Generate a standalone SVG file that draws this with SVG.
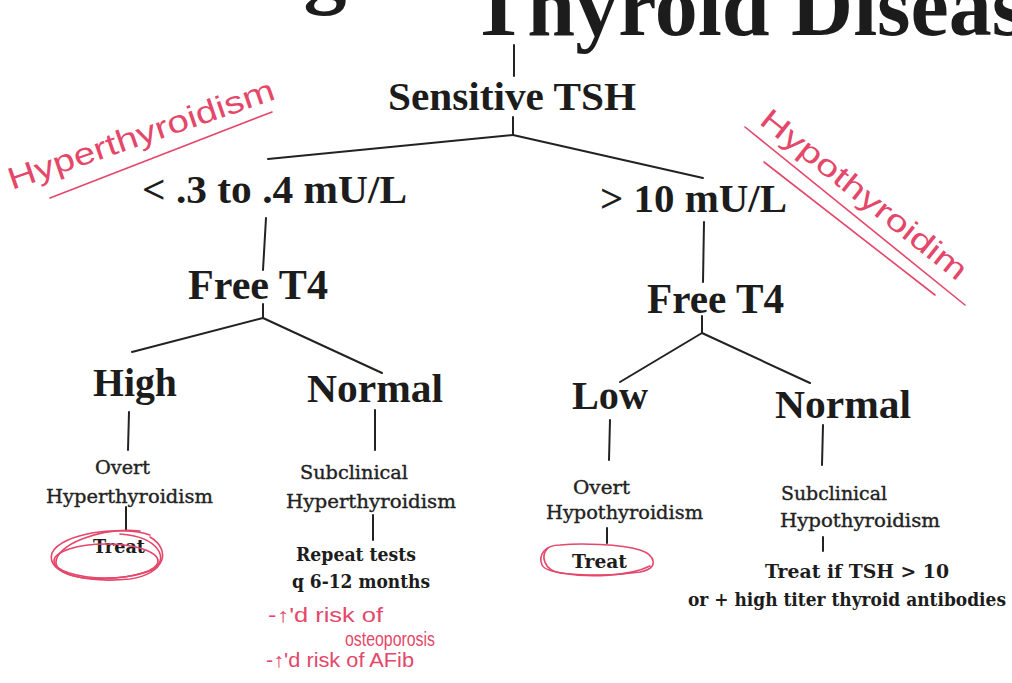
<svg xmlns="http://www.w3.org/2000/svg" width="1012" height="683" viewBox="0 0 1012 683">
<defs>
<style>
.big{font-family:"Liberation Serif","Times New Roman",serif;font-weight:bold;fill:#1c1c1c}
.sm{font-family:"DejaVu Serif","Liberation Serif",serif;fill:#222;stroke:#222;stroke-width:0.35;font-size:18px}
.smb{font-family:"DejaVu Serif","Liberation Serif",serif;fill:#1c1c1c;font-size:18px;font-weight:bold}
.hand{font-family:"Liberation Sans","DejaVu Sans",sans-serif;fill:#e4476a}
.red{fill:none;stroke:#e4476a;stroke-width:1.6;stroke-linecap:round}
.conn line{stroke:#222;stroke-width:2;stroke-linecap:round}
</style>
</defs>
<rect width="1012" height="683" fill="#ffffff"/>
<g id="title">
<text class="big" font-size="86" x="82" y="-3">Testing for</text>
<text class="big" font-size="86" x="470" y="35">Thyroid Disease</text>
</g>
<g id="connectors" class="conn">
<line x1="514" y1="45" x2="514" y2="76"/>
<line x1="513" y1="117" x2="513" y2="135"/>
<line x1="513" y1="135" x2="268" y2="159"/>
<line x1="513" y1="135" x2="703" y2="178"/>
<line x1="266" y1="218" x2="263" y2="270"/>
<line x1="263" y1="304" x2="263" y2="318"/>
<line x1="263" y1="318" x2="132" y2="352"/>
<line x1="263" y1="318" x2="382" y2="373"/>
<line x1="704" y1="222" x2="703" y2="282"/>
<line x1="702" y1="316" x2="702" y2="333"/>
<line x1="702" y1="333" x2="620" y2="382"/>
<line x1="702" y1="333" x2="810" y2="383"/>
<line x1="129" y1="412" x2="128" y2="450"/>
<line x1="375" y1="410" x2="375" y2="450"/>
<line x1="610" y1="420" x2="609" y2="460"/>
<line x1="823" y1="425" x2="822" y2="465"/>
<line x1="126" y1="507" x2="126" y2="530"/>
<line x1="373" y1="515" x2="373" y2="540"/>
<line x1="607" y1="528" x2="607" y2="543"/>
<line x1="823" y1="537" x2="823" y2="551"/>
</g>
<g id="tsh"><text class="big" font-size="41" x="512" y="110" text-anchor="middle" textLength="248" lengthAdjust="spacingAndGlyphs">Sensitive TSH</text></g>
<g id="low-tsh"><text class="big" font-size="40" x="142" y="203" textLength="265" lengthAdjust="spacingAndGlyphs">&lt; .3 to .4 mU/L</text></g>
<g id="high-tsh"><text class="big" font-size="40" x="600" y="212" textLength="187" lengthAdjust="spacingAndGlyphs">&gt; 10 mU/L</text></g>
<g id="ft4-left"><text class="big" font-size="42" x="188" y="299" textLength="140" lengthAdjust="spacingAndGlyphs">Free T4</text></g>
<g id="ft4-right"><text class="big" font-size="42" x="647" y="313" textLength="137" lengthAdjust="spacingAndGlyphs">Free T4</text></g>
<g id="high"><text class="big" font-size="41" x="93" y="396" textLength="84" lengthAdjust="spacingAndGlyphs">High</text></g>
<g id="normal-left"><text class="big" font-size="41" x="307" y="402" textLength="136" lengthAdjust="spacingAndGlyphs">Normal</text></g>
<g id="low"><text class="big" font-size="41" x="572" y="409" textLength="76" lengthAdjust="spacingAndGlyphs">Low</text></g>
<g id="normal-right"><text class="big" font-size="41" x="775" y="418" textLength="136" lengthAdjust="spacingAndGlyphs">Normal</text></g>
<g id="overt-hyper">
<text class="sm" x="95" y="474" textLength="55" lengthAdjust="spacingAndGlyphs">Overt</text>
<text class="sm" x="46" y="503" textLength="167" lengthAdjust="spacingAndGlyphs">Hyperthyroidism</text>
</g>
<g id="treat-left"><text class="smb" x="93" y="553" textLength="52" lengthAdjust="spacingAndGlyphs">Treat</text></g>
<g id="subclin-hyper">
<text class="sm" x="300" y="479" textLength="108" lengthAdjust="spacingAndGlyphs">Subclinical</text>
<text class="sm" x="286" y="508" textLength="170" lengthAdjust="spacingAndGlyphs">Hyperthyroidism</text>
</g>
<g id="repeat">
<text class="smb" x="296" y="561" textLength="120" lengthAdjust="spacingAndGlyphs">Repeat tests</text>
<text class="smb" x="292" y="588" textLength="138" lengthAdjust="spacingAndGlyphs">q 6-12 months</text>
</g>
<g id="overt-hypo">
<text class="sm" x="573" y="494" textLength="57" lengthAdjust="spacingAndGlyphs">Overt</text>
<text class="sm" x="546" y="519" textLength="157" lengthAdjust="spacingAndGlyphs">Hypothyroidism</text>
</g>
<g id="treat-right"><text class="smb" x="572" y="568" textLength="55" lengthAdjust="spacingAndGlyphs">Treat</text></g>
<g id="subclin-hypo">
<text class="sm" x="781" y="500" textLength="106" lengthAdjust="spacingAndGlyphs">Subclinical</text>
<text class="sm" x="780" y="527" textLength="160" lengthAdjust="spacingAndGlyphs">Hypothyroidism</text>
</g>
<g id="treat-if">
<text class="smb" x="765" y="578" textLength="184" lengthAdjust="spacingAndGlyphs">Treat if TSH &gt; 10</text>
<text class="smb" x="688" y="606" textLength="318" lengthAdjust="spacingAndGlyphs">or + high titer thyroid antibodies</text>
</g>
<g id="annot-hyper">
<text class="hand" font-size="31" x="12" y="190" transform="rotate(-19 12 190)" textLength="280" lengthAdjust="spacingAndGlyphs">Hyperthyroidism</text>
<path class="red" d="M50,198 L272,112"/>
</g>
<g id="annot-hypo">
<text class="hand" font-size="30" x="758" y="123" transform="rotate(38.5 758 123)" textLength="255" lengthAdjust="spacingAndGlyphs">Hypothyroidim</text>
<path class="red" d="M745,127 L965,305"/>
<path class="red" d="M764,162 L935,295"/>
</g>
<g id="annot-risk">
<text class="hand" font-size="20" x="268" y="622" textLength="115" lengthAdjust="spacingAndGlyphs">-↑'d risk of</text>
<text class="hand" font-size="20" x="345" y="646" textLength="90" lengthAdjust="spacingAndGlyphs">osteoporosis</text>
<text class="hand" font-size="20" x="266" y="667" textLength="148" lengthAdjust="spacingAndGlyphs">-↑'d risk of AFib</text>
</g>
<g id="circle-left">
<path class="red" stroke-width="2" d="M150,535 C120,525 62,533 52,553 C45,575 90,583 130,579 C165,574 172,550 150,537"/>
<path class="red" stroke-width="2" d="M140,531 C100,527 55,545 56,563 C58,582 120,583 152,570 C170,560 160,537 120,534"/>
<ellipse class="red" stroke-width="2" cx="106" cy="561" rx="52" ry="17"/>
</g>
<g id="circle-right">
<path class="red" d="M560,545 C545,545 538,555 542,565 C546,575 600,578 640,572 C660,568 655,555 640,550 C620,544 580,543 560,545"/>
<path class="red" d="M548,548 C540,556 544,570 560,573 C590,578 630,576 650,566"/>
</g>
</svg>
